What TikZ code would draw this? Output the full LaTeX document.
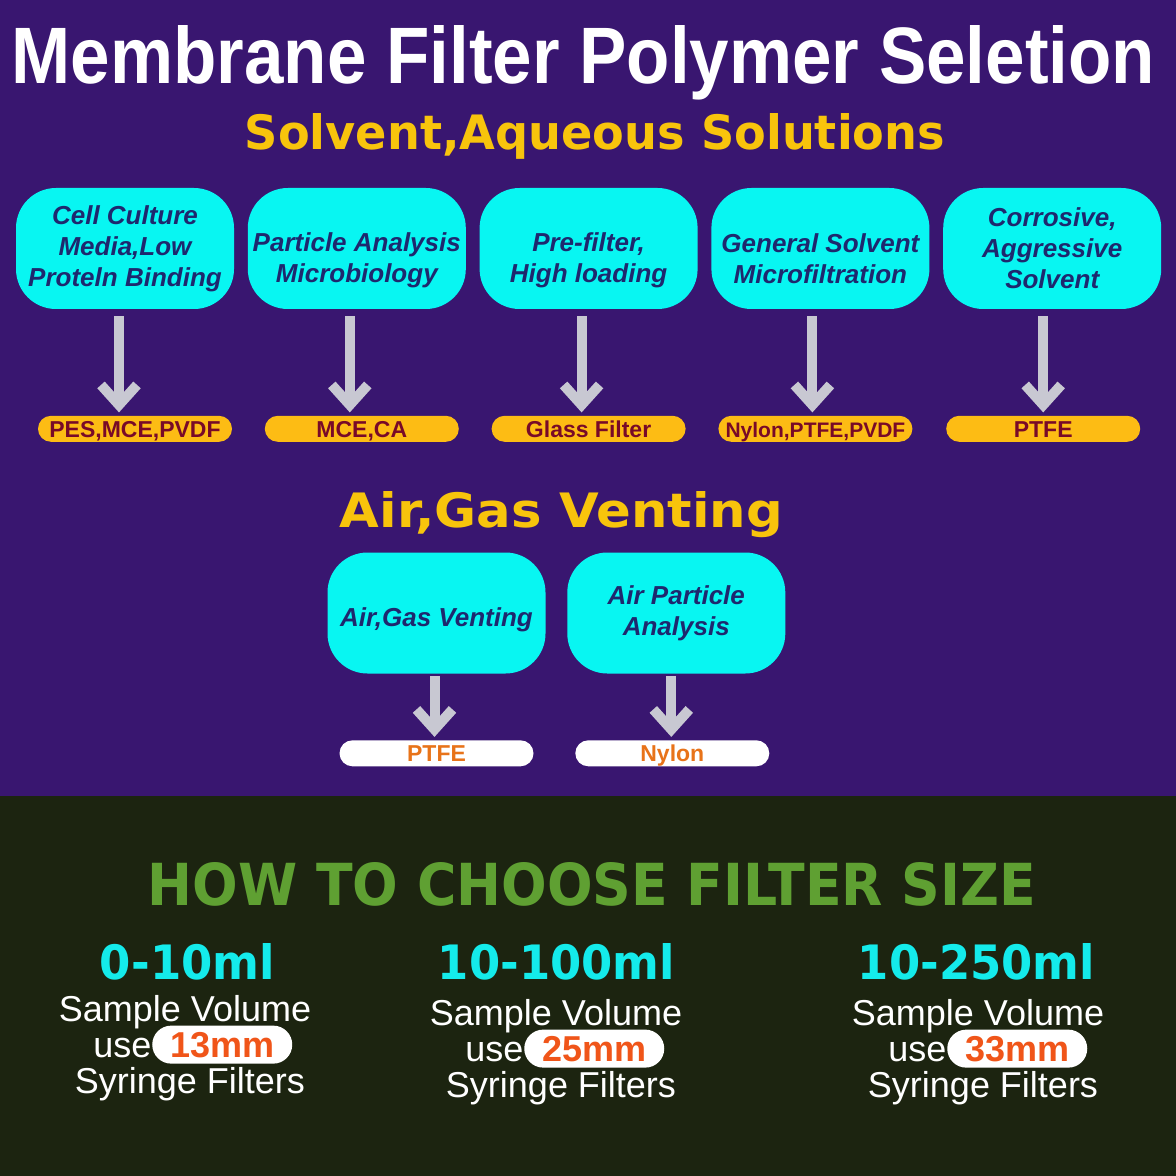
\documentclass[tikz,border=0pt]{standalone}
\usepackage{fontspec}
\setmainfont{Liberation Sans}
\newfontfamily\heavyfont{DejaVu Sans}
\usepackage{graphicx}
\usepackage{xcolor}
\usetikzlibrary{arrows.meta,positioning}
\definecolor{bgpurple}{RGB}{57,22,112}
\definecolor{bggreen}{RGB}{28,36,16}
\definecolor{boxcyan}{RGB}{8,246,242}
\definecolor{boxnavy}{RGB}{30,40,110}
\definecolor{arrowgray}{RGB}{200,200,210}
\definecolor{pillyellow}{RGB}{253,188,20}
\definecolor{pillmaroon}{RGB}{120,10,40}
\definecolor{headyellow}{RGB}{248,196,12}
\definecolor{ventorange}{RGB}{232,115,25}
\definecolor{headgreen}{RGB}{95,160,50}
\definecolor{rangecyan}{RGB}{20,235,235}
\definecolor{mmorange}{RGB}{240,85,25}
\newcommand{\lowstrut}[1]{\rule{0pt}{#1}}
\tikzset{
	appbox/.style = {rectangle, fill=boxcyan, rounded corners=20pt, minimum width=109pt, minimum height=60.5pt, align=center, inner sep=1pt, text=boxnavy, font=\fontsize{13}{15.5}\selectfont\bfseries\itshape},
	matpill/.style = {rectangle, fill=pillyellow, rounded corners=6.5pt, minimum width=97pt, minimum height=13pt, inner sep=0pt, text height=8.3pt, text depth=0pt, text=pillmaroon, font=\fontsize{11.5}{12}\selectfont\bfseries},
	ventpill/.style = {matpill, fill=white, text=ventorange},
	downarrow/.style = {draw=arrowgray, line width=5pt, -{Straight Barb[length=10pt,width=18pt,line cap=butt,line join=miter]}},
	headtxt/.style = {inner sep=0pt, anchor=base, font=\heavyfont\bfseries},
	sizetxt/.style = {inner sep=0pt, text=white, font=\fontsize{18}{20}\selectfont},
	mmpill/.style = {rectangle, fill=white, rounded corners=9.5pt, minimum width=70pt, minimum height=19pt, inner sep=0pt, text=mmorange, font=\fontsize{18}{20}\selectfont\bfseries}
}
\begin{document}
\begin{tikzpicture}[x=0.5pt, y=-0.5pt]
\useasboundingbox (0,0) rectangle (1176,1176);
\fill[bgpurple] (0,0) rectangle (1176,796);
\fill[bggreen] (0,796) rectangle (1176,1176);

% headings
\node[inner sep=0pt, anchor=base, text=white, font=\bfseries] (title) at (583.5,84) {\resizebox{571.5pt}{29pt}{Membrane Filter Polymer Seletion}};
\node[headtxt, text=headyellow] (solv) at (595,150) {\resizebox{350pt}{18pt}{Solvent,Aqueous Solutions}};

% solvent, aqueous solutions
\node[appbox] (b1) at (125,248.5) {Cell Culture\\Media,Low\\Proteln Binding};
\node[appbox, right=6.5pt of b1] (b2) {\lowstrut{21.5pt}Particle Analysis\\Microbiology};
\node[appbox, right=6.5pt of b2] (b3) {\lowstrut{21.5pt}Pre-filter,\\High loading};
\node[appbox, right=6.5pt of b3] (b4) {\lowstrut{20pt}General Solvent\\Microfiltration};
\node[appbox, right=6.5pt of b4] (b5) {Corrosive,\\Aggressive\\Solvent};

\node[matpill, below=53pt of b1, xshift=5pt] (p1) {PES,MCE,PVDF};
\node[matpill, below=53pt of b2, xshift=2.5pt] (p2) {MCE,CA};
\node[matpill, below=53pt of b3] (p3) {Glass Filter};
\node[matpill, below=53pt of b4, xshift=-2.5pt, font=\fontsize{10.5}{12}\selectfont\bfseries] (p4) {Nylon,PTFE,PVDF};
\node[matpill, below=53pt of b5, xshift=-4.5pt] (p5) {PTFE};

\draw[downarrow] ([xshift=-3pt,yshift=-3.5pt]b1.south) -- ([xshift=-3pt,yshift=1.5pt]b1.south |- p1.north);
\draw[downarrow] ([xshift=-3.5pt,yshift=-3.5pt]b2.south) -- ([xshift=-3.5pt,yshift=1.5pt]b2.south |- p2.north);
\draw[downarrow] ([xshift=-3.5pt,yshift=-3.5pt]b3.south) -- ([xshift=-3.5pt,yshift=1.5pt]b3.south |- p3.north);
\draw[downarrow] ([xshift=-4pt,yshift=-3.5pt]b4.south) -- ([xshift=-4pt,yshift=1.5pt]b4.south |- p4.north);
\draw[downarrow] ([xshift=-4.5pt,yshift=-3.5pt]b5.south) -- ([xshift=-4.5pt,yshift=1.5pt]b5.south |- p5.north);

% air, gas venting
\node[headtxt, text=headyellow] (air) at (561.5,527) {\resizebox{221.5pt}{18pt}{Air,Gas Venting}};
\node[appbox] (v1) at (436.5,613) {\lowstrut{16.5pt}Air,Gas Venting};
\node[appbox, right=10.5pt of v1] (v2) {Air Particle\\Analysis};
\node[ventpill, below=33pt of v1] (q1) {PTFE};
\node[ventpill, below=33pt of v2, xshift=-2pt] (q2) {Nylon};
\draw[downarrow] ([xshift=-1pt,yshift=-1pt]v1.south) -- ([xshift=-1pt,yshift=1.5pt]v1.south |- q1.north);
\draw[downarrow] ([xshift=-2.5pt,yshift=-1pt]v2.south) -- ([xshift=-2.5pt,yshift=1.5pt]v2.south |- q2.north);

% filter size
\node[headtxt, text=headgreen] (how) at (592,905) {\resizebox{444pt}{21.5pt}{HOW TO CHOOSE FILTER SIZE}};

\node[headtxt, text=rangecyan] (r1) at (187.5,979) {\resizebox{87.5pt}{18pt}{0-10ml}};
\node[sizetxt, anchor=base] (s1) at (185,1021) {Sample Volume};
\node[sizetxt, anchor=base west] (u1) at (93,1057) {use};
\node[mmpill, anchor=base west] (m1) at (u1.base east) {13mm};
\node[sizetxt, anchor=base] (f1) at (190,1093) {Syringe Filters};

\node[headtxt, text=rangecyan] (r2) at (556.5,979) {\resizebox{118.5pt}{18pt}{10-100ml}};
\node[sizetxt, anchor=base] (s2) at (556,1025) {Sample Volume};
\node[sizetxt, anchor=base west] (u2) at (465,1061) {use};
\node[mmpill, anchor=base west] (m2) at (u2.base east) {25mm};
\node[sizetxt, anchor=base] (f2) at (561,1097) {Syringe Filters};

\node[headtxt, text=rangecyan] (r3) at (976.5,979) {\resizebox{118.5pt}{18pt}{10-250ml}};
\node[sizetxt, anchor=base] (s3) at (978,1025) {Sample Volume};
\node[sizetxt, anchor=base west] (u3) at (888,1061) {use};
\node[mmpill, anchor=base west] (m3) at (u3.base east) {33mm};
\node[sizetxt, anchor=base] (f3) at (983,1097) {Syringe Filters};
\end{tikzpicture}
\end{document}
